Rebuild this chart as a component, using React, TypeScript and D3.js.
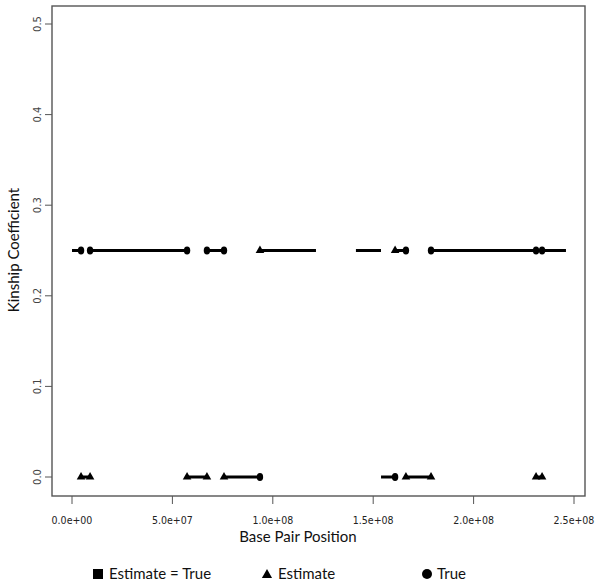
import * as d3 from 'd3';

// segments along the chromosome: start, end (bp), kinship value, end markers
const segStart = [0, 9.0e6, 6.72e7, 9.36e7, 1.414e8, 1.609e8, 1.788e8, 2.341e8,
  4.5e6, 5.73e7, 7.57e7, 1.539e8, 1.663e8, 2.311e8];
const segEnd = [4.5e6, 5.73e7, 7.57e7, 1.215e8, 1.539e8, 1.663e8, 2.311e8, 2.46e8,
  9.0e6, 6.72e7, 9.36e7, 1.609e8, 1.788e8, 2.341e8];
const segKinship = [0.25, 0.25, 0.25, 0.25, 0.25, 0.25, 0.25, 0.25,
  0, 0, 0, 0, 0, 0];
// "" none, "t" estimate (triangle), "c" true (circle)
const startMark = ['', 'c', 'c', 't', '', 't', 'c', 'c', 't', 't', 't', '', 't', 't'];
const endMark = ['c', 'c', 'c', '', '', 'c', 'c', '', 't', 't', 'c', 'c', 't', 't'];

const xTicks = [0, 5e7, 1e8, 1.5e8, 2e8, 2.5e8];
const xTickLabels = ['0.0e+00', '5.0e+07', '1.0e+08', '1.5e+08', '2.0e+08', '2.5e+08'];
const yTicks = [0, 0.1, 0.2, 0.3, 0.4, 0.5];
const legendLabels = ['Estimate = True', 'Estimate', 'True'];

export default function App() {
  const W = 600, H = 587;
  const left = 52, right = 585, top = 6, bottom = 496;

  const x = d3.scaleLinear().domain([0, 2.5e8]).range([72, 574]);
  const y = d3.scaleLinear().domain([0, 0.5]).range([477, 24]);

  const tri = d3.symbol().type(d3.symbolTriangle).size(32)();
  const triLegend = d3.symbol().type(d3.symbolTriangle).size(45)();

  const marker = (m: string, px: number, py: number, key: string) => {
    if (m === 'c') return <ellipse key={key} cx={px} cy={py} rx={3.2} ry={3.9} fill="#000" />;
    if (m === 't') return <path key={key} d={tri!} transform={`translate(${px},${py})`} fill="#000" />;
    return null;
  };

  return (
    <svg width={W} height={H} style={{ position: 'absolute', left: 0, top: 0, background: '#fff' }}
      fontFamily="Lato, 'Open Sans', sans-serif">
      <rect x={left} y={top} width={right - left} height={bottom - top} fill="none" stroke="#555" strokeWidth={1.4} />

      {xTicks.map((t, i) => (
        <g key={'xt' + i}>
          <line x1={x(t)} x2={x(t)} y1={bottom} y2={bottom + 8} stroke="#555" strokeWidth={1} />
          <text x={x(t)} y={524} textAnchor="middle" fontSize={10.5}
            fontFamily="'Liberation Sans Narrow', 'DejaVu Sans Condensed', sans-serif" fill="#222">
            {xTickLabels[i]}
          </text>
        </g>
      ))}
      {yTicks.map((t, i) => (
        <g key={'yt' + i}>
          <line x1={left} x2={left - 7} y1={y(t)} y2={y(t)} stroke="#555" strokeWidth={1} />
          <text transform={`translate(41,${y(t)}) rotate(-90)`} textAnchor="middle" fontSize={10}
            fontFamily="'DejaVu Sans', sans-serif" fill="#444">
            {t.toFixed(1)}
          </text>
        </g>
      ))}

      <text x={298} y={542} textAnchor="middle" fontSize={15} fill="#111">Base Pair Position</text>
      <text transform={`translate(19,250) rotate(-90)`} textAnchor="middle" fontSize={15} fill="#111">
        Kinship Coefficient
      </text>

      {segStart.map((s, i) => (
        <g key={'s' + i}>
          <line x1={x(s)} x2={x(segEnd[i])} y1={y(segKinship[i])} y2={y(segKinship[i])}
            stroke="#000" strokeWidth={3} />
          {marker(startMark[i], x(s), y(segKinship[i]), 'a')}
          {marker(endMark[i], x(segEnd[i]), y(segKinship[i]), 'b')}
        </g>
      ))}

      <g fontSize={15} fill="#111">
        <rect x={93} y={569} width={10} height={10} fill="#000" />
        <text x={109} y={579}>{legendLabels[0]}</text>
        <path d={triLegend!} transform="translate(267,575)" fill="#000" />
        <text x={278} y={579}>{legendLabels[1]}</text>
        <circle cx={427} cy={574} r={5} fill="#000" />
        <text x={437} y={579}>{legendLabels[2]}</text>
      </g>
    </svg>
  );
}
